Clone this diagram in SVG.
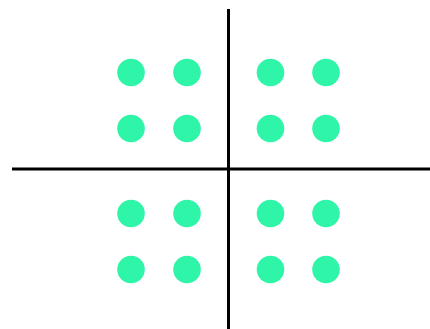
<svg xmlns="http://www.w3.org/2000/svg" width="430" height="329" viewBox="0 0 430 329">
<style>
.dot{fill:#2ef5a8}
.axis{stroke:#000;stroke-width:3;fill:none}
</style>
<rect width="430" height="329" fill="#fff"/>
<g id="connectors">
<line class="axis" x1="228.5" y1="9" x2="228.5" y2="329"/>
<line class="axis" x1="12" y1="169" x2="430" y2="169"/>
</g>
<g id="q1"><circle class="dot" cx="131" cy="72.5" r="13.8"/><circle class="dot" cx="187" cy="72.5" r="13.8"/><circle class="dot" cx="131" cy="128.5" r="13.8"/><circle class="dot" cx="187" cy="128.5" r="13.8"/></g>
<g id="q2"><circle class="dot" cx="270.5" cy="72.5" r="13.8"/><circle class="dot" cx="326" cy="72.5" r="13.8"/><circle class="dot" cx="270.5" cy="128.5" r="13.8"/><circle class="dot" cx="326" cy="128.5" r="13.8"/></g>
<g id="q3"><circle class="dot" cx="131" cy="213.5" r="13.8"/><circle class="dot" cx="187" cy="213.5" r="13.8"/><circle class="dot" cx="131" cy="269.5" r="13.8"/><circle class="dot" cx="187" cy="269.5" r="13.8"/></g>
<g id="q4"><circle class="dot" cx="270.5" cy="213.5" r="13.8"/><circle class="dot" cx="326" cy="213.5" r="13.8"/><circle class="dot" cx="270.5" cy="269.5" r="13.8"/><circle class="dot" cx="326" cy="269.5" r="13.8"/></g>
</svg>
